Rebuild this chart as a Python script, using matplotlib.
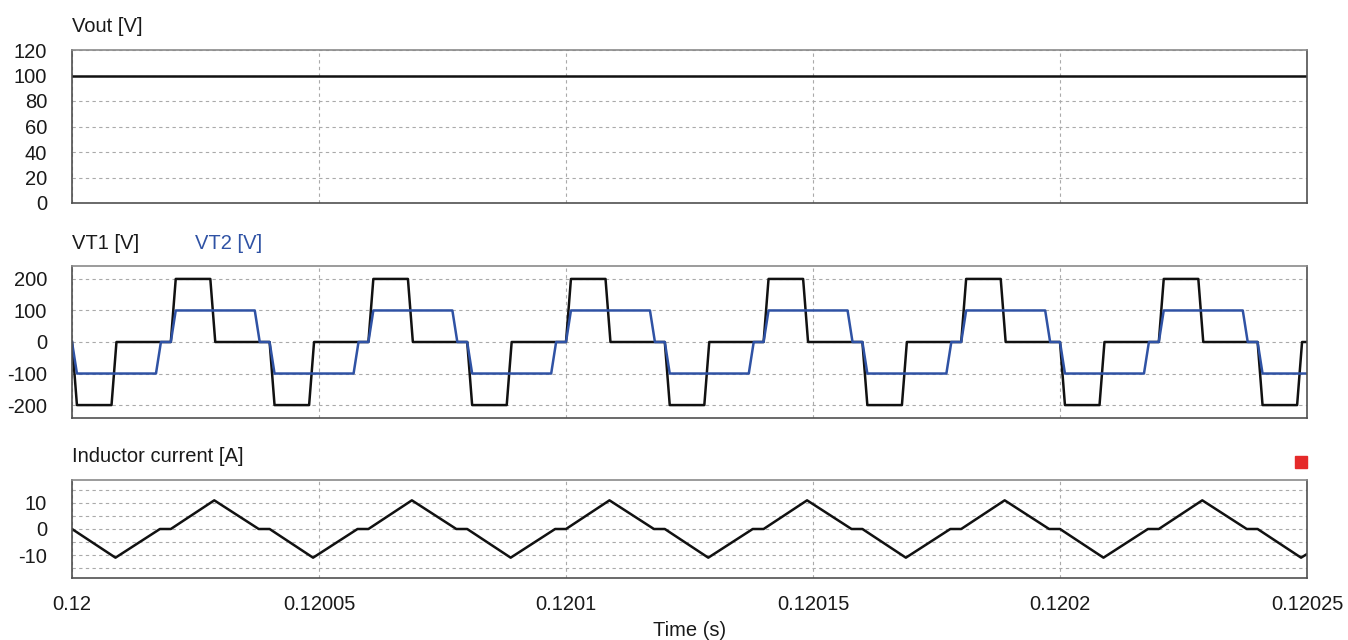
import matplotlib
matplotlib.use("Agg")
import matplotlib.pyplot as plt

plt.rcParams["font.family"] = ["Liberation Sans", "DejaVu Sans"]
plt.rcParams["axes.unicode_minus"] = False

# time axis in microseconds after t = 0.12 s
t_end_us = 250.0
x_tick_us = [0, 50, 100, 150, 200, 250]
x_tick_labels = ["0.12", "0.12005", "0.1201", "0.12015", "0.1202", "0.12025"]

# Vout [V]
vout_t = [0, 250]
vout_v = [100, 100]

# VT1 [V] breakpoints
vt1_t = [0, 1, 8, 9, 20, 21, 28, 29,
         40, 41, 48, 49, 60, 61, 68, 69,
         80, 81, 88, 89, 100, 101, 108, 109,
         120, 121, 128, 129, 140, 141, 148, 149,
         160, 161, 168, 169, 180, 181, 188, 189,
         200, 201, 208, 209, 220, 221, 228, 229,
         240, 241, 248, 249, 250]
vt1_v = [0, -200, -200, 0, 0, 200, 200, 0,
         0, -200, -200, 0, 0, 200, 200, 0,
         0, -200, -200, 0, 0, 200, 200, 0,
         0, -200, -200, 0, 0, 200, 200, 0,
         0, -200, -200, 0, 0, 200, 200, 0,
         0, -200, -200, 0, 0, 200, 200, 0,
         0, -200, -200, 0, 0]

# VT2 [V] breakpoints
vt2_t = [0, 1, 17, 18, 20, 21, 37, 38,
         40, 41, 57, 58, 60, 61, 77, 78,
         80, 81, 97, 98, 100, 101, 117, 118,
         120, 121, 137, 138, 140, 141, 157, 158,
         160, 161, 177, 178, 180, 181, 197, 198,
         200, 201, 217, 218, 220, 221, 237, 238,
         240, 241, 250]
vt2_v = [0, -100, -100, 0, 0, 100, 100, 0,
         0, -100, -100, 0, 0, 100, 100, 0,
         0, -100, -100, 0, 0, 100, 100, 0,
         0, -100, -100, 0, 0, 100, 100, 0,
         0, -100, -100, 0, 0, 100, 100, 0,
         0, -100, -100, 0, 0, 100, 100, 0,
         0, -100, -100]

# Inductor current [A] breakpoints
il_t = [0, 8.8, 17.8, 20, 28.8, 37.8,
        40, 48.8, 57.8, 60, 68.8, 77.8,
        80, 88.8, 97.8, 100, 108.8, 117.8,
        120, 128.8, 137.8, 140, 148.8, 157.8,
        160, 168.8, 177.8, 180, 188.8, 197.8,
        200, 208.8, 217.8, 220, 228.8, 237.8,
        240, 248.8, 250]
il_v = [0, -11, 0, 0, 11, 0,
        0, -11, 0, 0, 11, 0,
        0, -11, 0, 0, 11, 0,
        0, -11, 0, 0, 11, 0,
        0, -11, 0, 0, 11, 0,
        0, -11, 0, 0, 11, 0,
        0, -11, -9.6]

W, H = 1348, 640
fig = plt.figure(figsize=(W / 100, H / 100), dpi=100)

left = 72 / W
width = 1235 / W

def make_ax(top_px, bottom_px):
    ax = fig.add_axes([left, 1 - bottom_px / H, width, (bottom_px - top_px) / H])
    ax.set_xlim(0, t_end_us)
    ax.set_xticks(x_tick_us)
    for s in ax.spines.values():
        s.set_color("#505050")
        s.set_linewidth(1.2)
    ax.spines["top"].set_color("#8a8a8a")
    ax.tick_params(axis="both", which="both", length=0, labelsize=14.5,
                   labelcolor="#1a1a1a")
    ax.tick_params(axis="y", pad=18)
    ax.grid(True, which="both", color="#aaaaaa", linestyle=(0, (3, 3)), linewidth=0.8)
    ax.set_axisbelow(True)
    return ax

black = "#111111"
blue = "#2f52a4"

# top: Vout
ax1 = make_ax(50, 203)
ax1.plot(vout_t, vout_v, color=black, lw=1.8)
ax1.set_ylim(0, 120)
ax1.set_yticks([0, 20, 40, 60, 80, 100, 120])
ax1.tick_params(axis="x", labelbottom=False)
ax1.text(0, 1.155, "Vout [V]", transform=ax1.transAxes, fontsize=14.5,
         ha="left", va="center", color="#1a1a1a")

# middle: VT1 / VT2
ax2 = make_ax(266, 418)
ax2.plot(vt1_t, vt1_v, color=black, lw=1.8)
ax2.plot(vt2_t, vt2_v, color=blue, lw=1.8)
ax2.set_ylim(-241, 241)
ax2.set_yticks([-200, -100, 0, 100, 200])
ax2.tick_params(axis="x", labelbottom=False)
ax2.text(0, 1.15, "VT1 [V]", transform=ax2.transAxes, fontsize=14.5,
         ha="left", va="center", color="#1a1a1a")
ax2.text(123 / 1235, 1.15, "VT2 [V]", transform=ax2.transAxes, fontsize=14.5,
         ha="left", va="center", color=blue)

# bottom: inductor current
ax3 = make_ax(480, 578)
ax3.plot(il_t, il_v, color=black, lw=1.8)
ax3.set_ylim(-18.8, 18.8)
ax3.set_yticks([-10, 0, 10])
ax3.set_yticks([-15, -5, 5, 15], minor=True)
ax3.set_xticklabels(x_tick_labels)
ax3.tick_params(axis="x", pad=12)
ax3.text(0, 1.24, "Inductor current [A]", transform=ax3.transAxes, fontsize=14.5,
         ha="left", va="center", color="#1a1a1a")
ax3.plot([1229 / 1235], [1 + 18 / 98], marker="s", markersize=8.5, color="#e52a2a",
         transform=ax3.transAxes, clip_on=False, linestyle="none")
ax3.set_xlabel("Time (s)", fontsize=14.5, color="#1a1a1a", labelpad=5)

fig.savefig("out.png", dpi=100)
